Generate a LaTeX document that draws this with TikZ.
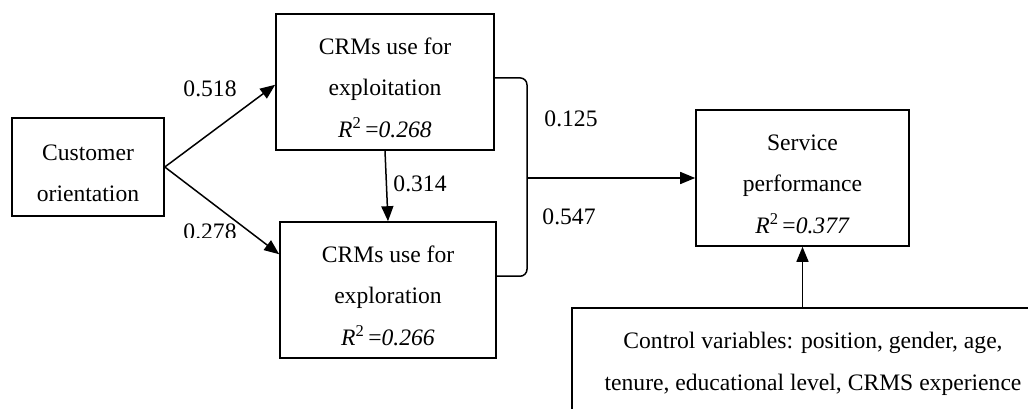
\documentclass[tikz,border=0pt]{standalone}
\usepackage{fontspec}
\setmainfont{Liberation Serif}
\usetikzlibrary{arrows.meta,calc}
\newcommand{\tallstrut}{\rule{0pt}{28pt}}
\begin{document}
\begin{tikzpicture}[x=1pt,y=-1pt,
  box/.style={draw,line width=1.6pt,inner sep=0pt,align=center,font=\fontsize{23.6}{41.5}\selectfont},
  lbl/.style={inner sep=0pt,font=\fontsize{23.6}{28}\selectfont},
  arr/.style={line width=1.5pt,-{Triangle[length=15pt,width=12pt]}},
  ln/.style={line width=1.5pt}]
\useasboundingbox (0,0) rectangle (1028,409);
\fill[white] (0,0) rectangle (1028,409);
\clip (0,0) rectangle (1028,409);

\node[box,minimum width=152pt,minimum height=98pt] (co) at (88,167) {\tallstrut Customer\\orientation};
\node[box,minimum width=218pt,minimum height=136pt] (ept) at (385,82) {\tallstrut CRMs use for\\exploitation\\\textit{R}\textsuperscript{2}\,=\textit{0.268}};
\node[box,minimum width=216pt,minimum height=136pt] (epr) at (388,290) {\tallstrut CRMs use for\\exploration\\\textit{R}\textsuperscript{2}\,=\textit{0.266}};
\node[box,minimum width=213pt,minimum height=136pt] (sp) at (802.5,178) {\tallstrut Service\\performance\\\textit{R}\textsuperscript{2}\,=\textit{0.377}};
\node[box,minimum width=482pt,minimum height=112pt] (cv) at (813,364) {Control variables: position, gender, age,\\tenure, educational level, CRMS experience};

\node[lbl] (l1) at (210,89) {0.518};
\begin{scope}
  \clip (170,200) rectangle (250,237);
  \node[lbl] (l2) at (210,231.5) {0.278};
\end{scope}
\node[lbl] (l3) at (420,183.5) {0.314};
\node[lbl] (l4) at (571,118.5) {0.125};
\node[lbl] (l5) at (569,217) {0.547};

\draw[arr] (co.east) -- ($(ept.north west)!0.52!(ept.south west)$);
\draw[arr] (co.east) -- ($(epr.north west)!0.24!(epr.south west)$);
\draw[arr] (ept.south) -- (epr.north);

\coordinate (bt) at ($(ept.north east)!0.47!(ept.south east)$);
\coordinate (bb) at ($(epr.north east)!0.40!(epr.south east)$);
\coordinate (bx) at (527,0);
\draw[ln,rounded corners=7pt] (bt) -- (bt -| bx) -- (bb -| bx) -- (bb);
\coordinate (bm) at (bx |- sp.west);
\draw[arr] (bm) -- (sp.west);

\draw[arr] (cv.north -| sp.south) -- (sp.south);
\end{tikzpicture}
\end{document}
